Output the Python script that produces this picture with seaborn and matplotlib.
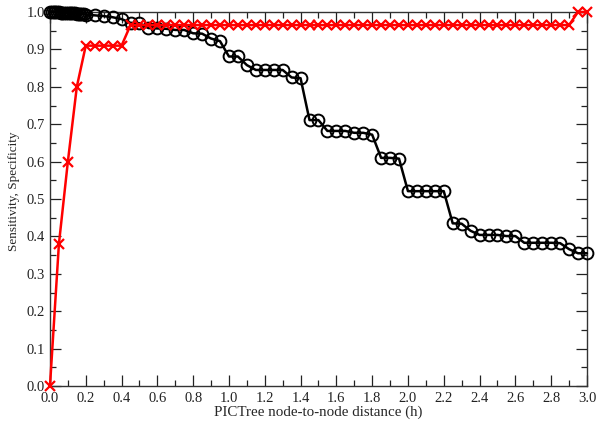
#importing libraries
import numpy as np
import pandas as pd
import seaborn as sns
import matplotlib.pyplot as plt
from matplotlib.ticker import MultipleLocator

#sensitivity curve (black circles)
sens_dist = [0.00, 0.01, 0.02, 0.03, 0.04, 0.05, 0.06, 0.07, 0.08, 0.09, 0.10,
             0.11, 0.12, 0.13, 0.14, 0.15, 0.16, 0.17, 0.18, 0.19, 0.20,
             0.25, 0.30, 0.35, 0.40, 0.45, 0.50, 0.55, 0.60, 0.65, 0.70,
             0.75, 0.80, 0.85, 0.90, 0.95, 1.00, 1.05, 1.10, 1.15, 1.20,
             1.25, 1.30, 1.35, 1.40, 1.45, 1.50, 1.55, 1.60, 1.65, 1.70,
             1.75, 1.80, 1.85, 1.90, 1.95, 2.00, 2.05, 2.10, 2.15, 2.20,
             2.25, 2.30, 2.35, 2.40, 2.45, 2.50, 2.55, 2.60, 2.65, 2.70,
             2.75, 2.80, 2.85, 2.90, 2.95, 3.00]
sensitivity = [1.000, 1.000, 1.000, 0.999, 0.999, 0.999, 0.998, 0.998, 0.998, 0.997, 0.997,
               0.997, 0.996, 0.996, 0.996, 0.995, 0.995, 0.995, 0.994, 0.994, 0.993,
               0.991, 0.989, 0.986, 0.981, 0.971, 0.970, 0.957, 0.956, 0.955, 0.952,
               0.952, 0.943, 0.942, 0.929, 0.922, 0.881, 0.881, 0.858, 0.845, 0.845,
               0.845, 0.845, 0.825, 0.823, 0.711, 0.711, 0.682, 0.682, 0.682, 0.677,
               0.677, 0.672, 0.610, 0.610, 0.608, 0.521, 0.521, 0.521, 0.521, 0.521,
               0.435, 0.434, 0.415, 0.404, 0.404, 0.404, 0.401, 0.401, 0.383, 0.383,
               0.383, 0.383, 0.382, 0.366, 0.355, 0.355]

#specificity curve (red crosses)
spec_dist = [0.00, 0.05, 0.10, 0.15, 0.20, 0.25, 0.30, 0.35, 0.40, 0.45,
             0.50, 0.55, 0.60, 0.65, 0.70, 0.75, 0.80, 0.85, 0.90, 0.95,
             1.00, 1.05, 1.10, 1.15, 1.20, 1.25, 1.30, 1.35, 1.40, 1.45,
             1.50, 1.55, 1.60, 1.65, 1.70, 1.75, 1.80, 1.85, 1.90, 1.95,
             2.00, 2.05, 2.10, 2.15, 2.20, 2.25, 2.30, 2.35, 2.40, 2.45,
             2.50, 2.55, 2.60, 2.65, 2.70, 2.75, 2.80, 2.85, 2.90, 2.95, 3.00]
specificity = [0.000, 0.380, 0.600, 0.800, 0.910, 0.910, 0.910, 0.910, 0.910, 0.965,
               0.965, 0.965, 0.965, 0.965, 0.965, 0.965, 0.965, 0.965, 0.965, 0.965,
               0.965, 0.965, 0.965, 0.965, 0.965, 0.965, 0.965, 0.965, 0.965, 0.965,
               0.965, 0.965, 0.965, 0.965, 0.965, 0.965, 0.965, 0.965, 0.965, 0.965,
               0.965, 0.965, 0.965, 0.965, 0.965, 0.965, 0.965, 0.965, 0.965, 0.965,
               0.965, 0.965, 0.965, 0.965, 0.965, 0.965, 0.965, 0.965, 0.965, 1.000, 1.000]

sensDF = pd.DataFrame({'dist': sens_dist, 'value': sensitivity})
specDF = pd.DataFrame({'dist': spec_dist, 'value': specificity})

sns.set_style('ticks')
plt.rcParams['font.family'] = ['Liberation Serif', 'DejaVu Serif']

fig = plt.figure(figsize=(6.02, 4.28), dpi=100)
ax = fig.add_axes([0.083, 0.098, 0.892, 0.874])

sns.lineplot(data=sensDF, x='dist', y='value', ax=ax, color='black', linewidth=1.8,
             marker='o', markersize=8.5, markerfacecolor='none', markeredgecolor='black',
             markeredgewidth=1.4, clip_on=False, zorder=3)
sns.lineplot(data=specDF, x='dist', y='value', ax=ax, color='#ff0000', linewidth=1.8,
             marker='x', markersize=7, markeredgecolor='#ff0000',
             markeredgewidth=1.6, clip_on=False, zorder=4)

ax.set_xlim(0, 3.0)
ax.set_ylim(0, 1.0)
ax.xaxis.set_major_locator(MultipleLocator(0.2))
ax.xaxis.set_minor_locator(MultipleLocator(0.1))
ax.yaxis.set_major_locator(MultipleLocator(0.1))
ax.yaxis.set_minor_locator(MultipleLocator(0.05))
ax.xaxis.set_major_formatter(plt.FormatStrFormatter('%.1f'))
ax.yaxis.set_major_formatter(plt.FormatStrFormatter('%.1f'))
ax.tick_params(which='both', direction='in', top=True, right=True, labelsize=10.5,
               colors='#222222', width=0.9)
ax.tick_params(which='major', length=8)
ax.tick_params(which='minor', length=4)
ax.tick_params(axis='x', pad=4)
for s in ax.spines.values():
    s.set_linewidth(1.0)
    s.set_color('#333333')

ax.set_xlabel('PICTree node-to-node distance (h)', fontsize=10.8, labelpad=1)
ax.set_ylabel('Sensitivity, Specificity', fontsize=9.5)
ax.yaxis.set_label_coords(-0.055, 0.52)

fig.savefig('out.png', dpi=100)
